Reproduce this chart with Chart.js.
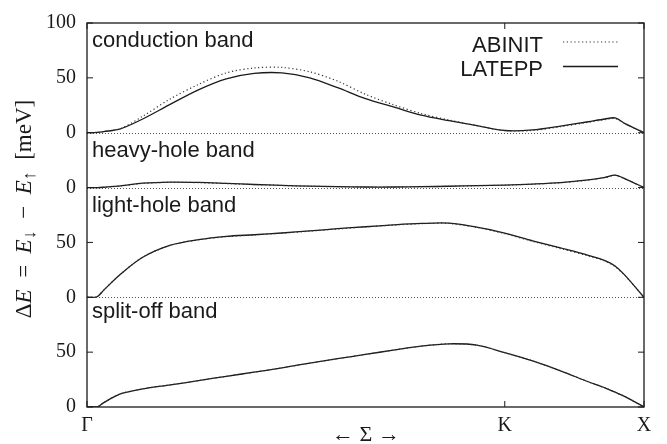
<!DOCTYPE html>
<html>
<head>
<meta charset="utf-8">
<script src="https://cdn.jsdelivr.net/npm/chart.js@4.4.0/dist/chart.umd.min.js"></script>
<style>
  html, body { margin: 0; padding: 0; background: #fff; }
</style>
</head>
<body>
<canvas id="spin-split" width="667" height="444"></canvas>
<script>
// k along Γ -> K -> X, scaled so Γ = 0 and X = 1 (K sits at 3/4 of the path)
const kPath = [0, 0.018, 0.03, 0.06, 0.1, 0.15, 0.2, 0.25, 0.3, 0.35, 0.4, 0.45, 0.5,
               0.55, 0.6, 0.65, 0.7, 0.75, 0.8, 0.85, 0.9, 0.93, 0.948, 0.966, 1];
const kTicks = [0, 0.75, 1];
const kLabels = ['Γ', 'K', 'X'];

// spin splitting dE in meV, one array per band and code
const condAbinit  = [0, 0.3, 1, 3.7, 15, 31, 44, 54.5, 59, 59.5, 55.5, 47, 35, 25.5, 17.5, 11.5, 6.5, 2, 2, 5.5, 9.5, 12, 13, 8.2, 0];
const condLatepp  = [0, 0.3, 1, 3.5, 12.5, 26, 39, 49, 54, 54.5, 50, 41, 31, 23.5, 16, 11, 6.5, 2, 2.5, 6, 10, 12.5, 13.5, 8.3, 0];
const heavyAbinit = [0, 0, 0.3, 1.4, 3.8, 4.8, 4.5, 3.7, 2.7, 1.9, 1.2, 0.7, 0.4, 0.4, 0.7, 1.1, 1.7, 2.2, 3.1, 4.4, 6.8, 9.1, 11.1, 7.9, 0];
const heavyLatepp = [0, 0, 0.3, 1.5, 4, 5, 4.7, 3.8, 2.8, 2, 1.3, 0.8, 0.5, 0.5, 0.8, 1.2, 1.8, 2.3, 3.2, 4.5, 7, 9.3, 11.3, 8, 0];
const lightAbinit = [0, 0.5, 6.5, 21, 36.5, 47.5, 52.3, 55.2, 56.8, 58.4, 60.3, 62.3, 64.1, 65.8, 67.1, 67.3, 63.6, 58, 51, 44.4, 37.7, 33, 28, 19.8, 0];
const lightLatepp = [0, 0.5, 6.5, 21, 36.5, 47.5, 52.5, 55.5, 57, 58.6, 60.5, 62.5, 64.3, 66, 67.3, 67.6, 64, 58.5, 51.5, 45, 38.3, 33.5, 28.5, 20, 0];
const splitAbinit = [0, 0, 4, 12, 16.5, 20.2, 24, 28, 31.7, 35.7, 40, 44, 48, 51.8, 55.5, 57.6, 56.3, 49.5, 42, 33, 23, 17.5, 13.5, 9.5, 0];
const splitLatepp = [0, 0, 4, 12, 16.5, 20.2, 24, 28, 31.7, 35.7, 40, 44, 48, 51.8, 55.5, 57.6, 56.3, 49.5, 42, 33, 23, 17.5, 13.5, 9.5, 0];

const bandNames = ['conduction band', 'heavy-hole band', 'light-hole band', 'split-off band'];
const seriesNames = ['ABINIT', 'LATEPP'];

// the four bands share one y axis, each one shifted up by its own zero
const bandShift = [250, 200, 100, 0];
const yTicks = [0, 50, 100, 150, 200, 250, 300, 350];
const yLabels = ['0', '50', '0', '50', '0', '0', '50', '100'];

const bandData = [
    [condAbinit, condLatepp],
    [heavyAbinit, heavyLatepp],
    [lightAbinit, lightLatepp],
    [splitAbinit, splitLatepp],
];

const INK = '#1a1a1a';
const SERIF = '"Liberation Serif", "DejaVu Serif", serif';
const SANS = '"Liberation Sans", Arial, sans-serif';

const styleFor = (s) => s === 0
    ? { borderColor: '#333', borderWidth: 1.2, borderDash: [1.2, 2.6] }
    : { borderColor: INK, borderWidth: 1.3, borderDash: [] };

const datasets = [];
bandData.forEach((pair, b) => {
    pair.forEach((vals, s) => {
        datasets.push({
            label: seriesNames[s],
            data: kPath.map((k, i) => ({ x: k, y: vals[i] + bandShift[b] })),
            pointRadius: 0,
            fill: false,
            tension: 0.3,
            ...styleFor(s),
        });
    });
});

const decor = {
    id: 'decor',
    beforeDatasetsDraw(chart) {
        const { ctx, chartArea: a, scales: { y } } = chart;
        ctx.save();
        ctx.strokeStyle = '#555';
        ctx.lineWidth = 1;
        ctx.setLineDash([1, 2]);
        bandShift.filter(v => v > 0).forEach(v => {
            const py = Math.round(y.getPixelForValue(v)) + 0.5;
            ctx.beginPath();
            ctx.moveTo(a.left, py);
            ctx.lineTo(a.right, py);
            ctx.stroke();
        });
        ctx.restore();
    },
    afterDatasetsDraw(chart) {
        const { ctx, chartArea: a, scales: { x, y } } = chart;
        ctx.save();

        // frame and inward ticks
        ctx.strokeStyle = INK;
        ctx.lineWidth = 1.3;
        ctx.strokeRect(a.left, a.top, a.right - a.left, a.bottom - a.top);
        ctx.lineWidth = 1;
        yTicks.forEach(v => {
            const py = y.getPixelForValue(v);
            ctx.beginPath();
            ctx.moveTo(a.left, py); ctx.lineTo(a.left + 6, py);
            ctx.moveTo(a.right, py); ctx.lineTo(a.right - 6, py);
            ctx.stroke();
        });
        kTicks.forEach(v => {
            const px = x.getPixelForValue(v);
            ctx.beginPath();
            ctx.moveTo(px, a.bottom); ctx.lineTo(px, a.bottom - 6);
            ctx.moveTo(px, a.top); ctx.lineTo(px, a.top + 6);
            ctx.stroke();
        });

        // band names, baseline given in axis units
        const namePos = [328.1, 228.2, 177.7, 81.5];
        ctx.fillStyle = INK;
        ctx.font = `22px ${SANS}`;
        ctx.textAlign = 'left';
        ctx.textBaseline = 'alphabetic';
        bandNames.forEach((n, i) => ctx.fillText(n, a.left + 5, y.getPixelForValue(namePos[i])));

        // key in the top right corner
        ctx.textAlign = 'right';
        seriesNames.forEach((n, s) => {
            const base = 51.5 + s * 24.5;
            ctx.fillText(n, 543, base);
            const st = styleFor(s);
            ctx.strokeStyle = st.borderColor;
            ctx.lineWidth = st.borderWidth;
            ctx.setLineDash(st.borderDash);
            ctx.beginPath();
            ctx.moveTo(563, base - 9.5);
            ctx.lineTo(618, base - 9.5);
            ctx.stroke();
        });
        ctx.setLineDash([]);

        // path label under the axis
        ctx.font = `22px ${SERIF}`;
        ctx.textAlign = 'center';
        ctx.textBaseline = 'middle';
        ctx.fillText('← Σ →', 366, 435);

        // y title, written piece by piece for the italics and arrows
        const parts = [
            ['Δ', 'n'], ['E', 'i'], ['  =  ', 'n'], ['E', 'i'], ['↓', 's'],
            ['  −  ', 'n'], ['E', 'i'], ['↑', 's'], ['  [meV]', 'n'],
        ];
        const fontOf = (t) => t === 'i' ? `italic 23px ${SERIF}` : t === 's' ? `18px ${SERIF}` : `23px ${SERIF}`;
        let total = 0;
        parts.forEach(([txt, t]) => { ctx.font = fontOf(t); total += ctx.measureText(txt).width; });
        ctx.translate(31, 209);
        ctx.rotate(-Math.PI / 2);
        ctx.textAlign = 'left';
        ctx.textBaseline = 'alphabetic';
        let cx = -total / 2;
        parts.forEach(([txt, t]) => {
            ctx.font = fontOf(t);
            ctx.fillText(txt, cx, t === 's' ? 4 : 0);
            cx += ctx.measureText(txt).width;
        });
        ctx.restore();
    }
};

new Chart(document.getElementById('spin-split'), {
    type: 'line',
    data: { datasets },
    options: {
        responsive: false,
        animation: false,
        devicePixelRatio: 1,
        layout: { padding: { top: 19, right: 23, left: 0, bottom: 0 } },
        plugins: { legend: { display: false }, tooltip: { enabled: false } },
        scales: {
            x: {
                type: 'linear',
                min: 0,
                max: 1,
                afterFit: (s) => { s.height = 37; },
                afterBuildTicks: (s) => { s.ticks = kTicks.map(v => ({ value: v })); },
                grid: { display: false, drawTicks: false },
                border: { display: false },
                ticks: {
                    autoSkip: false,
                    maxRotation: 0,
                    padding: 7,
                    color: INK,
                    font: { family: SERIF, size: 20 },
                    callback: (v) => kLabels[kTicks.indexOf(v)],
                },
            },
            y: {
                min: 0,
                max: 350,
                afterFit: (s) => { s.width = 87; },
                afterBuildTicks: (s) => { s.ticks = yTicks.map(v => ({ value: v })); },
                grid: { display: false, drawTicks: false },
                border: { display: false },
                ticks: {
                    autoSkip: false,
                    padding: 11,
                    color: INK,
                    font: { family: SERIF, size: 20 },
                    callback: (v) => yLabels[yTicks.indexOf(v)],
                },
            },
        },
    },
    plugins: [decor],
});
</script>
</body>
</html>
